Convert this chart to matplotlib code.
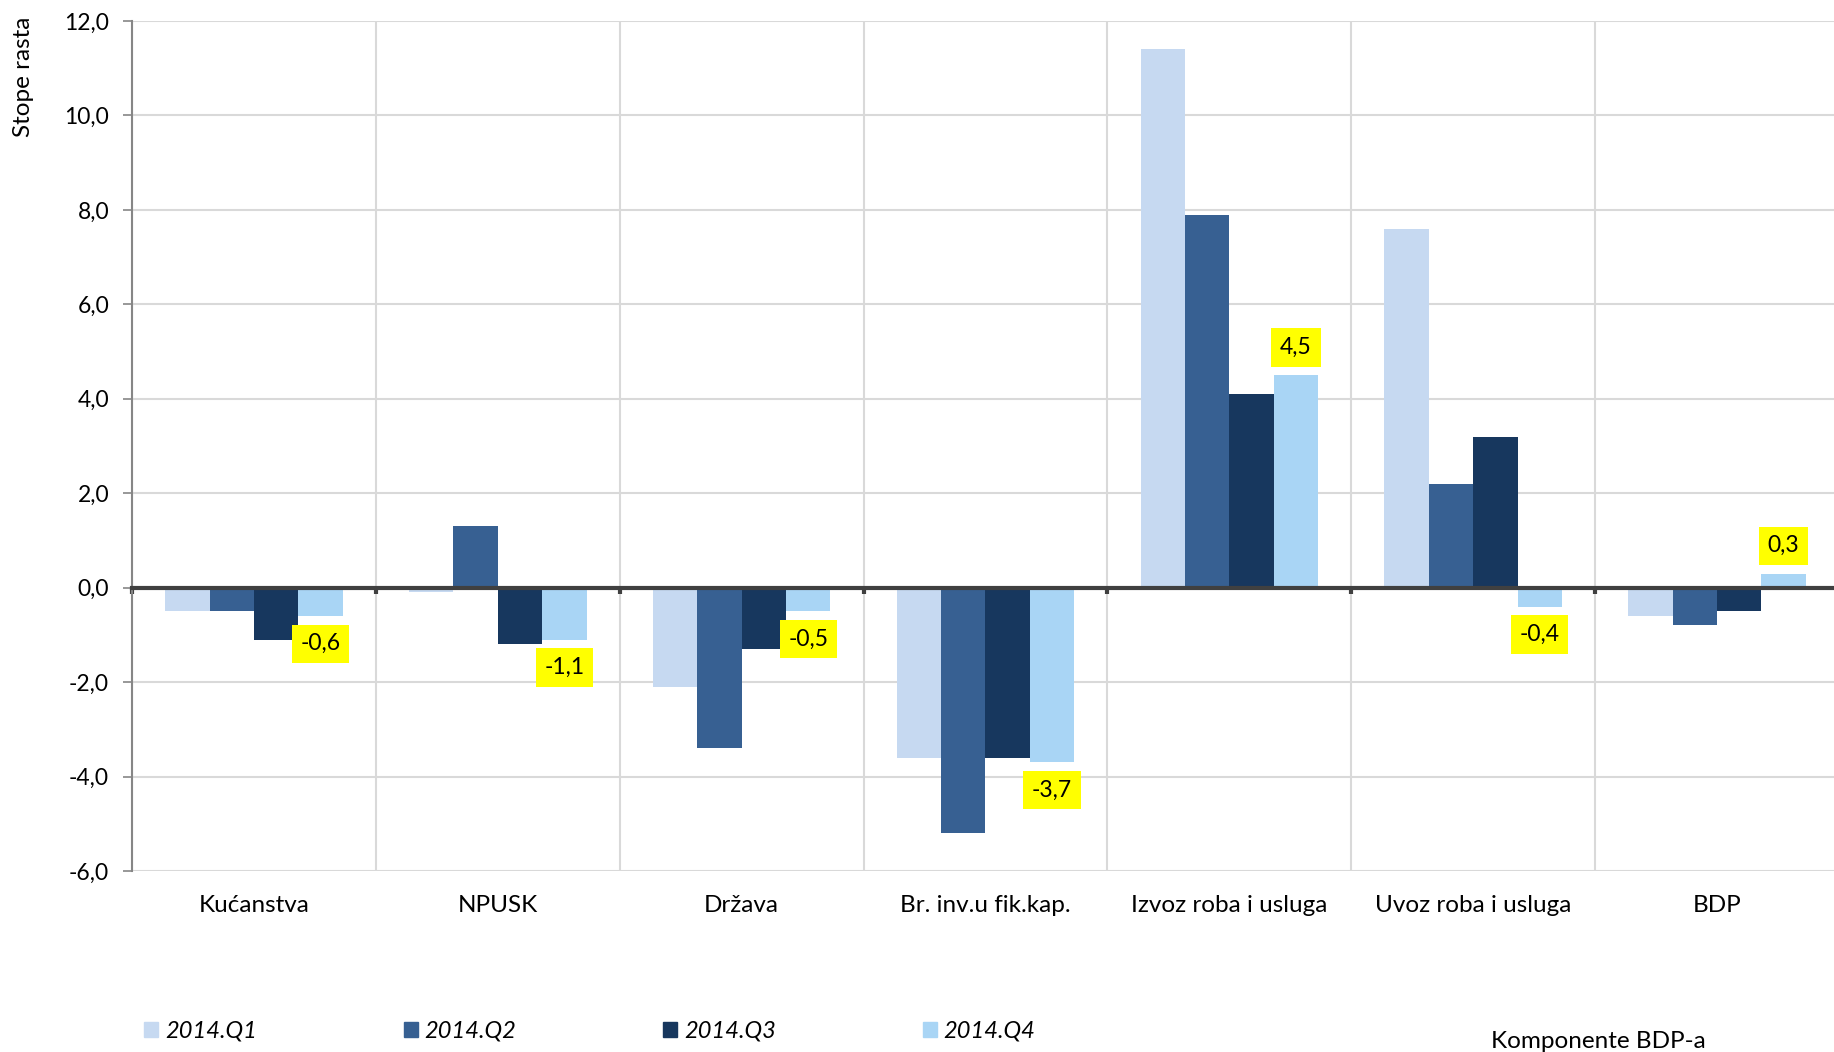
import matplotlib
matplotlib.use("Agg")
import matplotlib.pyplot as plt
import matplotlib.patches as mpatches
import matplotlib.transforms as mtransforms
from matplotlib.ticker import FuncFormatter, MultipleLocator
import numpy as np

plt.rcParams['font.family'] = ['Lato', 'DejaVu Sans']

categories = ["Kućanstva", "NPUSK", "Država", "Br. inv.u fik.kap.",
              "Izvoz roba i usluga", "Uvoz roba i usluga", "BDP"]
series_names = ["2014.Q1", "2014.Q2", "2014.Q3", "2014.Q4"]
q1 = [-0.5, -0.1, -2.1, -3.6, 11.4, 7.6, -0.6]
q2 = [-0.5, 1.3, -3.4, -5.2, 7.9, 2.2, -0.8]
q3 = [-1.1, -1.2, -1.3, -3.6, 4.1, 3.2, -0.5]
q4 = [-0.6, -1.1, -0.5, -3.7, 4.5, -0.4, 0.3]
colors = ["#C6D9F1", "#376092", "#17375E", "#A9D5F5"]

fig = plt.figure(figsize=(18.34, 10.52), dpi=100)
ax = fig.add_axes([132 / 1834, 1 - 871 / 1052, (1839 - 132) / 1834, 850 / 1052])

x = np.arange(len(categories)) + 0.5
w = 0.182
for i, (vals, c) in enumerate(zip([q1, q2, q3, q4], colors)):
    ax.bar(x + (i - 1.5) * w, vals, width=w, color=c, zorder=3)

# labels on the last quarter
for xi, v in zip(x + 1.5 * w, q4):
    off = 20 if v >= 0 else -20
    ax.annotate(f"{v:.1f}".replace(".", ","), (xi, v), xytext=(0, off),
                textcoords="offset points", ha="center", va="center",
                fontsize=16.5, zorder=5,
                bbox=dict(boxstyle="square,pad=0.38", fc="#FFFF00", ec="none"))

ax.set_xlim(0, 7)
ax.set_ylim(-6, 12)
ax.yaxis.set_major_locator(MultipleLocator(2))
ax.yaxis.set_major_formatter(FuncFormatter(lambda v, p: f"{v:.1f}".replace(".", ",")))
ax.set_xticks(np.arange(0, 8))
ax.set_xticklabels([])
ax.grid(True, color="#D9D9D9", lw=1.5, zorder=0)

for s in ["top", "right"]:
    ax.spines[s].set_visible(False)
ax.spines["left"].set_color("#868686")
ax.spines["left"].set_linewidth(1.5)
ax.spines["bottom"].set_position(("data", 0))
ax.spines["bottom"].set_color("#404040")
ax.spines["bottom"].set_linewidth(3)
ax.spines["bottom"].set_zorder(4)
ax.tick_params(axis="y", direction="out", length=6.5, width=1.2, color="#868686",
               labelsize=16.5, pad=10)
ax.tick_params(axis="x", direction="out", length=4, width=3, color="#404040")

trans = mtransforms.blended_transform_factory(ax.transData, ax.transAxes)
for xi, name in zip(x, categories):
    ax.text(xi, -0.04, name, transform=trans, ha="center", va="center", fontsize=17.5)

fig.text(23 / 1834, 1 - 17 / 1052, "Stope rasta", rotation=90, ha="center", va="top", fontsize=17.5)
fig.text(1598 / 1834, 1 - 1041 / 1052, "Komponente BDP-a", ha="center", va="center", fontsize=17.5)

handles = [mpatches.Patch(color=c, label=n) for c, n in zip(colors, series_names)]
fig.legend(handles=handles, loc="center left", bbox_to_anchor=(144 / 1834, 1 - 1031 / 1052),
           ncol=4, frameon=False, borderpad=0, borderaxespad=0,
           handlelength=0.6, handleheight=0.6, handletextpad=0.3, columnspacing=6.2,
           prop=dict(family="Lato", style="italic", size=17))

fig.savefig("out.png", dpi=100)
